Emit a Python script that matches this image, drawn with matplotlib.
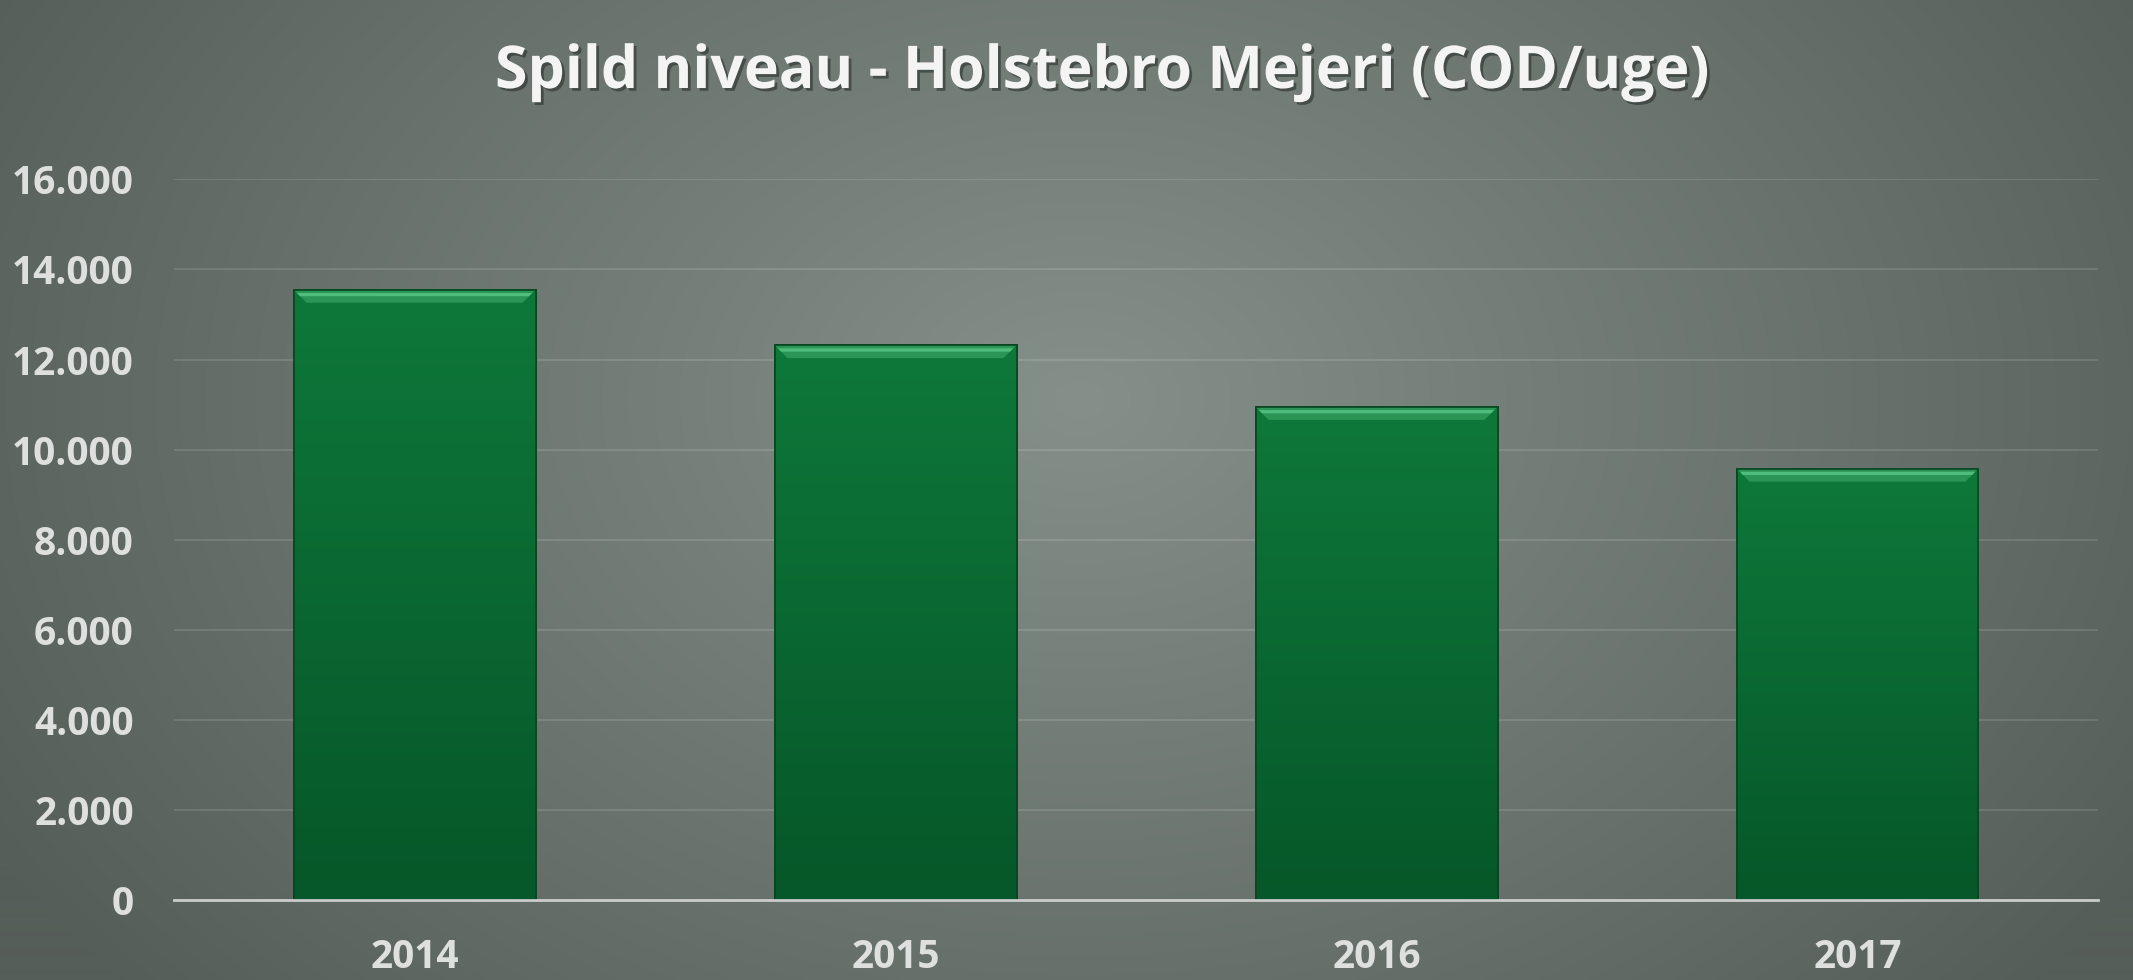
import numpy as np
import matplotlib
matplotlib.use("Agg")
import matplotlib.pyplot as plt
import matplotlib.patheffects as pe
from matplotlib.patches import Polygon
from matplotlib.ticker import FuncFormatter

categories = ["2014", "2015", "2016", "2017"]
values = [13550, 12320, 10950, 9580]
yticks = [0, 2000, 4000, 6000, 8000, 10000, 12000, 14000, 16000]
title = "Spild niveau - Holstebro Mejeri (COD/uge)"

W, H = 2133, 980
fig = plt.figure(figsize=(W / 100, H / 100), dpi=100)

# radial gradient background
bg = fig.add_axes([0, 0, 1, 1], zorder=-10)
yy, xx = np.mgrid[0:H, 0:W]
cx, cy = 1080, 400
r = np.sqrt(((xx - cx) / 1250.0) ** 2 + ((yy - cy) / 900.0) ** 2)
r = np.clip(r, 0, 1)
c_in = np.array([0x85, 0x90, 0x8a]) / 255
c_out = np.array([0x56, 0x5e, 0x59]) / 255
img = c_in[None, None, :] * (1 - r[..., None]) + c_out[None, None, :] * r[..., None]
bg.imshow(img, aspect="auto", extent=[0, 1, 0, 1], origin="upper")
bg.set_axis_off()

font = "Open Sans"
ax = fig.add_axes([0.0816, 0.0816, 0.9020, 0.7354])
ax.patch.set_alpha(0)
x = np.arange(len(categories))
bars = ax.bar(x, values, width=0.503, color="#0c7236", edgecolor="#08451f",
              linewidth=1.2, zorder=3)

ax.set_xlim(-0.5, len(categories) - 0.5)
ax.set_ylim(0, 16000)
ax.set_yticks(yticks)
ax.yaxis.set_major_formatter(FuncFormatter(lambda v, p: f"{int(v):,}".replace(",", ".")))
ax.set_xticks(x)
ax.set_xticklabels(categories)

ax.grid(axis="y", color="white", alpha=0.12, linewidth=1.5, zorder=0)
ax.set_axisbelow(True)
for s in ["top", "right", "left"]:
    ax.spines[s].set_visible(False)
ax.spines["bottom"].set_color("#c9cccb")
ax.spines["bottom"].set_linewidth(2)
ax.spines["bottom"].set_zorder(5)
ax.tick_params(axis="both", length=0, colors="#dedfdf", labelsize=28)
ax.tick_params(axis="y", pad=29)
ax.tick_params(axis="x", pad=27)
for lab in ax.get_xticklabels() + ax.get_yticklabels():
    lab.set_fontfamily(font)
    lab.set_fontweight("bold")

# gradient fill and bevel
grad = np.linspace(0, 1, 256)[:, None]
top_c = np.array([0x0e, 0x78, 0x3a]) / 255
bot_c = np.array([0x06, 0x57, 0x29]) / 255
gimg = top_c[None, None, :] * (1 - grad[..., None]) + bot_c[None, None, :] * grad[..., None]
bev_y = 290
bev_x = 0.027
for b in bars:
    x0, w, h = b.get_x(), b.get_width(), b.get_height()
    im = ax.imshow(gimg, extent=[x0, x0 + w, 0, h], aspect="auto", origin="upper", zorder=3.5)
    im.set_clip_path(b)
    poly = Polygon([[x0, h], [x0 + w, h], [x0 + w - bev_x, h - bev_y], [x0 + bev_x, h - bev_y]],
                   closed=True, facecolor="#2a9555", edgecolor="none", zorder=4)
    ax.add_patch(poly)
    hl = Polygon([[x0 + bev_x * 0.25, h - bev_y * 0.25], [x0 + w - bev_x * 0.25, h - bev_y * 0.25],
                  [x0 + w - bev_x * 0.5, h - bev_y * 0.5], [x0 + bev_x * 0.5, h - bev_y * 0.5]],
                 closed=True, facecolor="#5ccb88", edgecolor="none", alpha=0.75, zorder=4.1)
    ax.add_patch(hl)
    ax.add_patch(Polygon([[x0, 0], [x0, h], [x0 + w, h], [x0 + w, 0]], closed=True,
                         fill=False, edgecolor="#08451f", linewidth=1.2, zorder=4.2))

fig.text(0.5166, 0.926, title, ha="center", va="center", color="#f4f4f4",
         fontsize=42.5, fontweight="bold", fontfamily=font,
         path_effects=[pe.withSimplePatchShadow(offset=(2, -2), shadow_rgbFace="#2a302d", alpha=0.6)])

fig.savefig("out.png", dpi=100)
